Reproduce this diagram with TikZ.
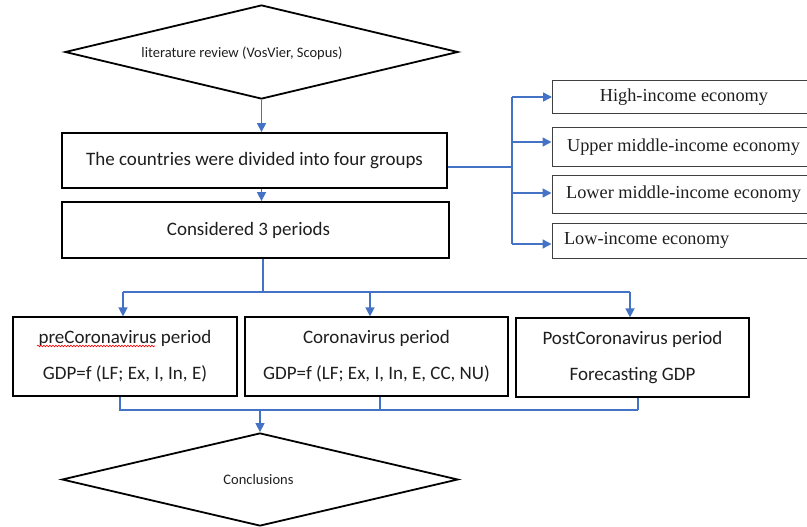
\documentclass[tikz,border=0pt]{standalone}
\usepackage{fontspec}
\setmainfont{Carlito}
\newfontfamily\serifrm{Liberation Serif}
\usetikzlibrary{shapes.geometric,arrows.meta,decorations.pathmorphing}
\definecolor{linkblue}{RGB}{68,114,196}
\definecolor{txtgray}{RGB}{30,30,30}
\begin{document}
\begin{tikzpicture}[x=1pt,y=-1pt,
  dia/.style={diamond,draw=black,line width=1.8pt,inner sep=0pt,aspect=4.2},
  mainbox/.style={draw=black,line width=1.8pt,inner sep=0pt,text=txtgray,font=\fontsize{19}{23}\selectfont},
  perbox/.style={draw=black,line width=1.2pt,inner sep=0pt,align=center,text=txtgray,font=\fontsize{19}{36}\selectfont},
  ecobox/.style={draw=black!75,line width=1pt,inner sep=0pt,minimum width=263pt,text=txtgray,font=\serifrm\fontsize{18.3}{22}\selectfont},
  smalltxt/.style={inner sep=0pt,text=txtgray,font=\fontsize{14.5}{17}\selectfont},
  conn/.style={draw=linkblue,line width=1.4pt},
  arr/.style={conn,-{Triangle[width=9pt,length=9pt]}}]
\useasboundingbox (0,0) rectangle (807,527);
\clip (0,0) rectangle (807,527);

% top diamond
\node[dia,minimum width=393pt,minimum height=94pt] (lit) at (261.5,52) {};
\node[smalltxt] (littext) at (242,53) {literature review (VosVier, Scopus)};

% main boxes
\node[mainbox,minimum width=385pt,minimum height=55pt] (groups) at (254.5,160.5) {The countries were divided into four groups};
\node[mainbox,minimum width=387pt,minimum height=56pt] (periods) at (255.5,230) {\hspace*{-14pt}Considered 3 periods};

% economy boxes
\node[ecobox,minimum height=33pt] (high) at (684,97.5) {High-income economy};
\node[ecobox,minimum height=38pt] (upper) at (683.5,147) {Upper middle-income economy};
\node[ecobox,minimum height=38pt] (lower) at (683.5,194) {Lower middle-income economy};
\node[ecobox,minimum height=35pt] (low) at (683.5,240.5) {\makebox[239pt][l]{Low-income economy}};

% period boxes
\node[perbox,minimum width=224pt,minimum height=79pt] (pre) at (125,356.5) {preCoronavirus period\\GDP=f (LF; Ex, I, In, E)};
\node[perbox,minimum width=263pt,minimum height=79pt] (cor) at (376.5,356.5) {Coronavirus period\\GDP=f (LF; Ex, I, In, E, CC, NU)};
\node[perbox,minimum width=233pt,minimum height=79pt] (post) at (632.5,357.5) {PostCoronavirus period\\Forecasting GDP};

% spell-check underline
\draw[red,line width=0.6pt,decorate,decoration={snake,amplitude=0.8pt,segment length=3pt}] (37,346) -- (155,346);

% bottom diamond
\node[dia,minimum width=396pt,minimum height=93pt] (concl) at (260,479.5) {};
\node[smalltxt] (concltext) at (258.5,480) {Conclusions};

% connectors top
\draw[arr] (lit.south) -- (groups.north -| lit.south);
\draw[arr] (groups.south -| lit.south) -- (periods.north -| lit.south);

% right bus
\coordinate (rbus) at (512,167);
\coordinate (rtop) at (512,97);
\coordinate (r2) at (512,142);
\coordinate (r3) at (512,193);
\coordinate (rbot) at (512,244);
\draw[conn] (groups.east |- rbus) -- (rbus);
\draw[conn] (rtop) -- (rbot);
\draw[arr] (rtop) -- (high.west |- rtop);
\draw[arr] (r2) -- (upper.west |- r2);
\draw[arr] (r3) -- (lower.west |- r3);
\draw[arr] (rbot) -- (low.west |- rbot);

% split to periods
\coordinate (split) at (263,292);
\coordinate (sl) at (123,292);
\coordinate (sm) at (370,292);
\coordinate (sr) at (630,292);
\draw[conn] (periods.south -| split) -- (split);
\draw[conn] (sl) -- (sr);
\draw[arr] (sl) -- (pre.north -| sl);
\draw[arr] (sm) -- (cor.north -| sm);
\draw[arr] (sr) -- (post.north -| sr);

% merge to conclusions
\coordinate (ml) at (120,410);
\coordinate (mm) at (380,410);
\coordinate (mr) at (638,410);
\coordinate (mc) at (260,410);
\draw[conn] (pre.south -| ml) -- (ml) -- (mr);
\draw[conn] (cor.south -| mm) -- (mm);
\draw[conn] (post.south -| mr) -- (mr);
\draw[arr] (mc) -- (concl.north);
\end{tikzpicture}
\end{document}
